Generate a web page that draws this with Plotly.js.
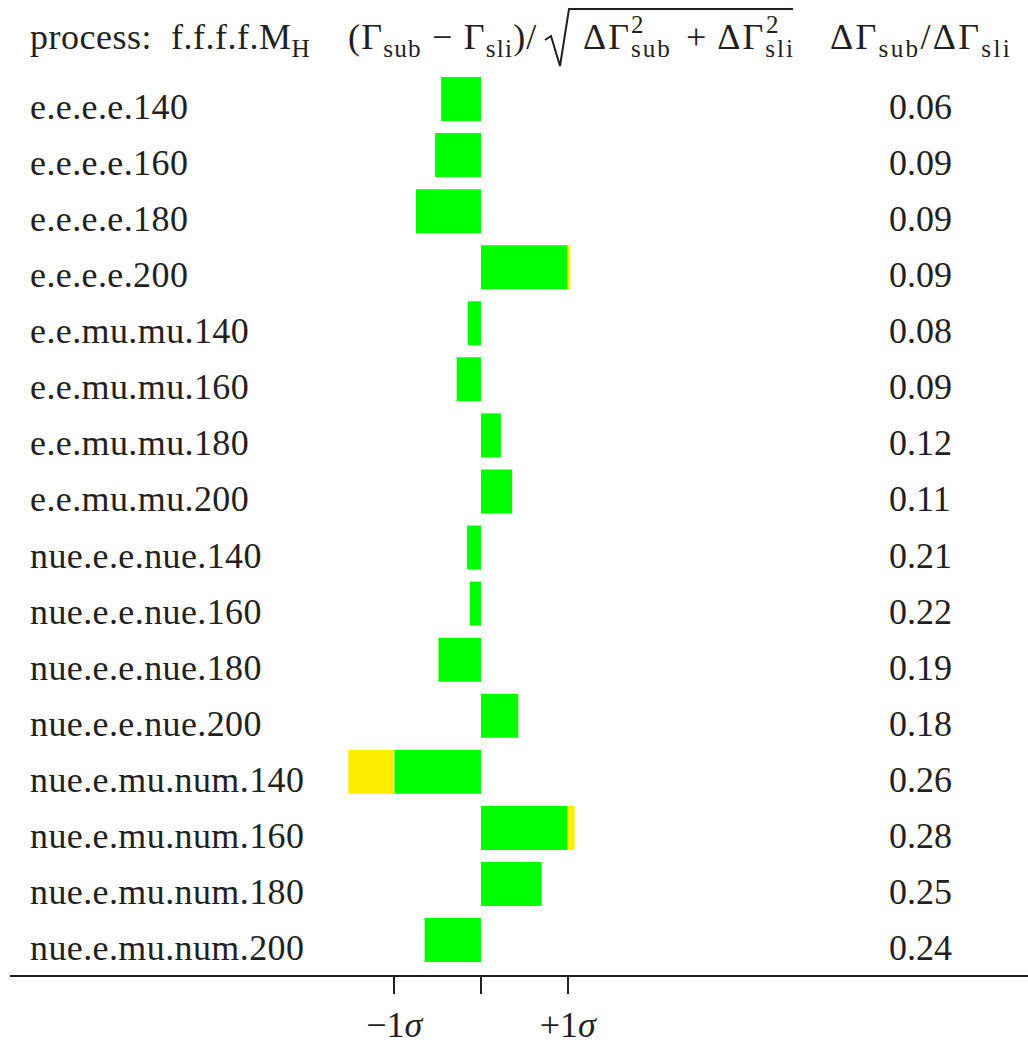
<!DOCTYPE html>
<html>
<head>
<meta charset="utf-8">
<script src="https://cdn.plot.ly/plotly-3.0.1.min.js"></script>
<style>
  html, body { margin: 0; padding: 0; background: #fff; }
  #chart { width: 1028px; height: 1043px; }
</style>
</head>
<body>
<div id="chart"></div>
<script>
// Process list (f.f.f.f.M_H)
const processes = [
  'e.e.e.e.140', 'e.e.e.e.160', 'e.e.e.e.180', 'e.e.e.e.200',
  'e.e.mu.mu.140', 'e.e.mu.mu.160', 'e.e.mu.mu.180', 'e.e.mu.mu.200',
  'nue.e.e.nue.140', 'nue.e.e.nue.160', 'nue.e.e.nue.180', 'nue.e.e.nue.200',
  'nue.e.mu.num.140', 'nue.e.mu.num.160', 'nue.e.mu.num.180', 'nue.e.mu.num.200'
];
// Pull (Γsub − Γsli)/sqrt(ΔΓsub² + ΔΓsli²), in units of σ
const pulls = [
  -0.46, -0.53, -0.75, 1.03,
  -0.15, -0.28, 0.23, 0.36,
  -0.16, -0.13, -0.49, 0.43,
  -1.53, 1.08, 0.70, -0.65
];
// Ratio of uncertainties ΔΓsub/ΔΓsli
const errRatio = [
  '0.06', '0.09', '0.09', '0.09',
  '0.08', '0.09', '0.12', '0.11',
  '0.21', '0.22', '0.19', '0.18',
  '0.26', '0.28', '0.25', '0.24'
];
// Sigma tick marks
const sigmaTicks = [-1, 0, 1];
const sigmaTickText = ['\u22121<i>σ</i>', '', '+1<i>σ</i>'];

// Split each pull into the part within 1σ (green) and the part beyond (yellow)
const inside = pulls.map(v => Math.max(-1, Math.min(1, v)));
const beyond = pulls.map((v, i) => v - inside[i]);

const W = 1028, H = 1043;
const M = { l: 10, r: 0, t: 60, b: 68 };
const PW = W - M.l - M.r, PH = H - M.t - M.b;
const px = x => (x - M.l) / PW;          // page x -> paper x
const py = y => (H - M.b - y) / PH;      // page y -> paper y

const FONT = 'Liberation Serif, Times New Roman, serif';
const INK = '#231f20';
const FS = 36;
const spaced = (t, s) => '<span style="letter-spacing:' + s + 'px">' + t + '</span>';

const traces = [
  {
    type: 'bar', orientation: 'h',
    y: processes, x: inside,
    marker: { color: '#00ff00', line: { width: 0 } },
    hoverinfo: 'skip', showlegend: false
  },
  {
    type: 'bar', orientation: 'h',
    y: processes, x: beyond,
    marker: { color: '#ffee00', line: { width: 0 } },
    hoverinfo: 'skip', showlegend: false
  }
];

const annotations = [];
processes.forEach((p, i) => {
  annotations.push({
    xref: 'paper', yref: 'y', x: px(28), y: p,
    xanchor: 'left', yanchor: 'middle', yshift: -8,
    text: spaced(p, 0.4), showarrow: false,
    font: { family: FONT, size: FS, color: INK }
  });
  annotations.push({
    xref: 'paper', yref: 'y', x: px(920), y: p,
    xanchor: 'center', yanchor: 'middle', yshift: -8,
    text: errRatio[i], showarrow: false,
    font: { family: FONT, size: FS, color: INK }
  });
});

// Column headers
const hdr = { family: FONT, size: FS, color: INK };
const sup = { family: FONT, size: 25, color: INK };
const head = (x, text, anchor, y, font) => ({
  xref: 'paper', yref: 'paper', x: px(x), y: py(y === undefined ? 40 : y),
  xanchor: anchor || 'left', yanchor: 'middle',
  text: text, showarrow: false, font: font || hdr
});
annotations.push(
  head(28, spaced('process:&nbsp; f.f.f.f.M<sub>H</sub>', 0.5)),
  head(346, spaced('(Γ<sub>sub</sub> \u2212 Γ<sub>sli</sub>)/', 1.2)),
  head(581, spaced('ΔΓ<sub>sub</sub>', 2)),
  head(629, '2', 'left', 25, sup),
  head(684, spaced('+ ΔΓ<sub>sli</sub>', 2)),
  head(764, '2', 'left', 25, sup),
  head(828, spaced('ΔΓ<sub>sub</sub>/ΔΓ<sub>sli</sub>', 2.3))
);

// Radical sign over the quadrature sum
const rad = [[545, 40], [551, 36], [560, 66], [569, 9], [793, 9]];
const radPath = rad.map((p, i) => (i ? 'L' : 'M') + px(p[0]).toFixed(5) + ',' + py(p[1]).toFixed(5)).join(' ');

const layout = {
  width: W, height: H,
  margin: M,
  paper_bgcolor: '#fff', plot_bgcolor: '#fff',
  barmode: 'relative', bargap: 0.215,
  showlegend: false,
  xaxis: {
    range: [(M.l - 481) / 86.7, (W - M.r - 481) / 86.7],
    showgrid: false, zeroline: false,
    showline: true, linewidth: 2, linecolor: INK,
    ticks: 'outside', ticklen: 17, tickwidth: 2, tickcolor: INK,
    tickvals: sigmaTicks, ticktext: sigmaTickText,
    tickfont: { family: FONT, size: FS, color: INK },
    fixedrange: true
  },
  yaxis: {
    type: 'category', categoryorder: 'array', categoryarray: processes,
    range: [15.624, -0.696],
    visible: false, showgrid: false, zeroline: false, fixedrange: true
  },
  annotations: annotations,
  shapes: [{
    type: 'path', xref: 'paper', yref: 'paper', path: radPath,
    line: { color: INK, width: 2 }, fillcolor: 'rgba(0,0,0,0)'
  }]
};

Plotly.newPlot('chart', traces, layout, { staticPlot: true, displayModeBar: false });
</script>
</body>
</html>
